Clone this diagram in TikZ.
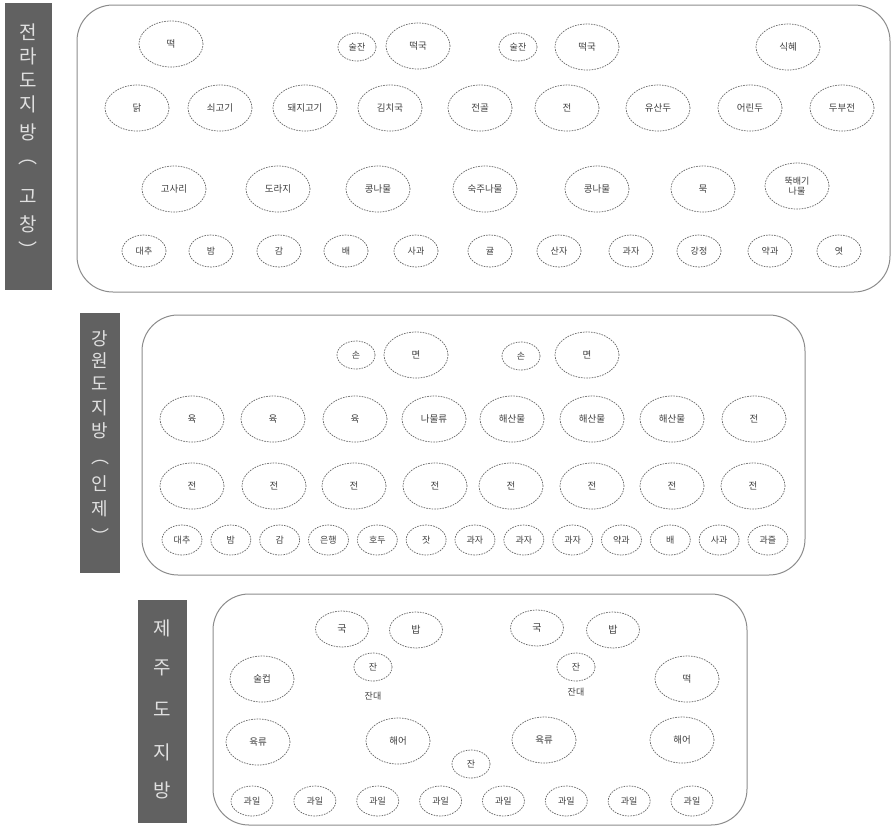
\documentclass[tikz,border=0pt]{standalone}
\usepackage{fontspec}
\setmainfont{Noto Sans CJK KR}
\usetikzlibrary{shapes.geometric}
\tikzset{
  ov/.style={ellipse, draw=black!60, dash pattern=on 1.6pt off 1.1pt, line width=0.7pt,
    inner sep=0pt, text=black!75, font=\fontsize{9.5}{10.5}\selectfont},
  bigov/.style={ov, minimum width=64pt, minimum height=46pt},
  smov/.style={ov, minimum width=38pt, minimum height=28pt, font=\fontsize{9}{10}\selectfont},
  frA/.style={ov, minimum width=44pt, minimum height=32pt, font=\fontsize{9}{10}\selectfont},
  frB/.style={ov, minimum width=40pt, minimum height=30pt, font=\fontsize{9}{10}\selectfont},
  midov/.style={ov, minimum width=53pt, minimum height=36pt, font=\fontsize{10}{11}\selectfont},
  plain/.style={inner sep=0pt, text=black!75, font=\fontsize{9}{10}\selectfont},
  panel/.style={draw=black!45, line width=1pt, rounded corners=36pt},
  bar/.style={fill=black!62, draw=none},
  bartxt/.style={inner sep=0pt, text=white!88!black, font=\fontsize{19}{20}\selectfont},
}
\begin{document}
\begin{tikzpicture}[x=1pt,y=-1pt]
\useasboundingbox (0,0) rectangle (895,831);
\fill[white] (0,0) rectangle (895,831);

% ---------- panel 1 ----------
\draw[panel] (77,5) rectangle (890,292);
\fill[bar] (5,3) rectangle (52,290);
\foreach \y/\t [count=\i] in {32/전,56/라,80/도,104/지,132/방,162/︵,197/고,224/창,250/︶}
  \node[bartxt] (l1-\i) at (28,\y) {\t};

\node[bigov] (p1a) at (171,44) {떡};
\node[smov]  (p1b) at (357,47) {술잔};
\node[bigov] (p1c) at (418,46) {떡국};
\node[smov]  (p1d) at (518,47) {술잔};
\node[bigov] (p1e) at (587,47) {떡국};
\node[bigov] (p1f) at (788,47) {식혜};

\foreach \x/\t [count=\i] in {137/닭,220/쇠고기,305/돼지고기,390/김치국,480/전골,567/전,658/유산두,750/어린두,842/두부전}
  \node[bigov] (p1r2-\i) at (\x,108) {\t};

\foreach \x/\t [count=\i] in {174/고사리,278/도라지,378/콩나물,485/숙주나물,597/콩나물,703/묵}
  \node[bigov] (p1r3-\i) at (\x,189) {\t};
\node[bigov, align=center, font=\fontsize{9}{10}\selectfont] (p1r3-7) at (797,186) {뚝배기\\나물};

\foreach \x/\t [count=\i] in {144/대추,211/밤,279/감,346/배,416/사과,490/귤,559/산자,631/과자,699/강정,770/약과,839/엿}
  \node[frA] (p1r4-\i) at (\x,251) {\t};

% ---------- panel 2 ----------
\draw[panel] (142,315) rectangle (805,575);
\fill[bar] (80,313) rectangle (120,573);
\foreach \y/\t [count=\i] in {339/강,361/원,384/도,408/지,431/방,462/︵,484/인,509/제,536/︶}
  \node[bartxt, font=\fontsize{18}{19}\selectfont] (l2-\i) at (100,\y) {\t};

\node[smov]  (p2a) at (356,355) {손};
\node[bigov] (p2b) at (416,355) {면};
\node[smov]  (p2c) at (521,356) {손};
\node[bigov] (p2d) at (587,355) {면};

\foreach \x/\t [count=\i] in {192/육,273/육,355/육,434/나물류,512/해산물,592/해산물,672/해산물,754/전}
  \node[bigov] (p2r2-\i) at (\x,419) {\t};
\foreach \x [count=\i] in {192,274,354,435,511,592,672,753}
  \node[bigov] (p2r3-\i) at (\x,486) {전};
\foreach \t [count=\i from 0] in {대추,밤,감,은행,호두,잣,과자,과자,과자,약과,배,사과,과즐}
  \node[frB] (p2r4-\i) at ({182+48.83*\i},540) {\t};

% ---------- panel 3 ----------
\draw[panel] (213,594) rectangle (747,825);
\fill[bar] (138,600) rectangle (187,823);
\foreach \y/\t [count=\i] in {628/제,668/주,709/도,752/지,790/방}
  \node[bartxt] (l3-\i) at (162,\y) {\t};

\node[midov] (p3a) at (342,629) {국};
\node[midov] (p3b) at (416,630) {밥};
\node[smov]  (p3c) at (373,667) {잔};
\node[plain] (p3d) at (373,696) {잔대};
\node[bigov] (p3e) at (262,679) {술컵};
\node[midov] (p3f) at (537,628) {국};
\node[midov] (p3g) at (613,630) {밥};
\node[smov]  (p3h) at (576,667) {잔};
\node[plain] (p3i) at (576,692) {잔대};
\node[bigov] (p3j) at (687,679) {떡};
\node[bigov] (p3k) at (258,742) {육류};
\node[bigov] (p3l) at (398,741) {해어};
\node[smov]  (p3m) at (471,764) {잔};
\node[bigov] (p3n) at (544,740) {육류};
\node[bigov] (p3o) at (682,740) {해어};
\foreach \i in {0,...,7}
  \node[frB, minimum width=42pt] (p3r-\i) at ({252+62.86*\i},801) {과일};
\end{tikzpicture}
\end{document}
